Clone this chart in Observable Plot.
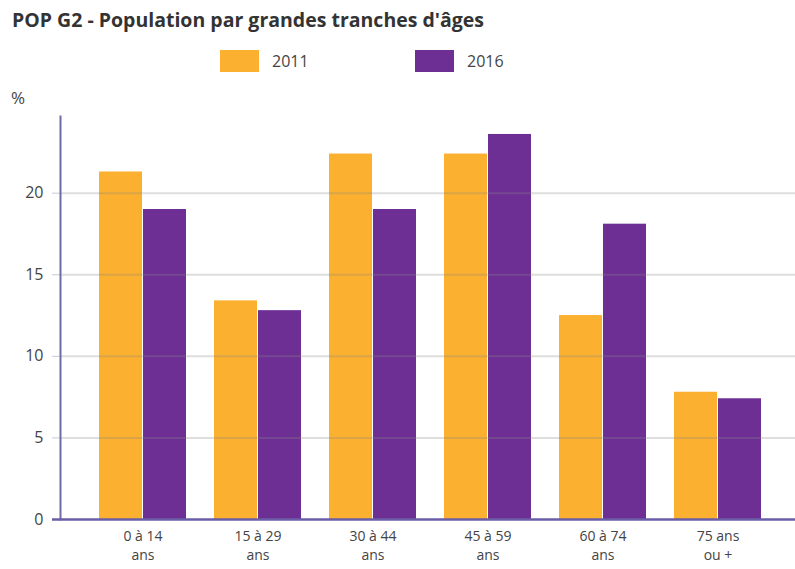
<!DOCTYPE html>
<html>
<head>
<meta charset="utf-8">
<script src="https://cdn.jsdelivr.net/npm/d3@7"></script>
<script src="https://cdn.jsdelivr.net/npm/@observablehq/plot@0.6"></script>
<style>
  html, body { margin: 0; padding: 0; background: #fff; }
  #wrap { position: relative; width: 795px; height: 569px; font-family: "Open Sans", sans-serif; }
  #title { position: absolute; left: 12px; top: 6px; font-size: 19.5px; font-weight: 700; color: #333; white-space: nowrap; }
  .leg { position: absolute; top: 50px; display: flex; align-items: center; font-size: 16px; color: #444; }
  .sw { width: 39px; height: 22px; margin-right: 13px; }
  #pct { position: absolute; left: 11px; top: 86px; font-size: 17px; color: #444; }
  #chart { position: absolute; left: 0; top: 90px; }
</style>
</head>
<body>
<div id="wrap">
  <div id="title"></div>
  <div id="legend"></div>
  <div id="pct">%</div>
  <div id="chart"></div>
</div>
<script>
const titleText = "POP G2 - Population par grandes tranches d'âges";
const ages = ["0 à 14\nans", "15 à 29\nans", "30 à 44\nans", "45 à 59\nans", "60 à 74\nans", "75 ans\nou +"];
const years = ["2011", "2016"];
const values2011 = [21.3, 13.4, 22.4, 22.4, 12.5, 7.8];
const values2016 = [19.0, 12.8, 19.0, 23.6, 18.1, 7.4];
const yTicks = [0, 5, 10, 15, 20];
const colors = ["#fbb02f", "#6e2f94"];

document.getElementById("title").textContent = titleText;
const legend = document.getElementById("legend");
const legLeft = [220, 415];
years.forEach((y, i) => {
  const d = document.createElement("div");
  d.className = "leg";
  d.style.left = legLeft[i] + "px";
  d.innerHTML = `<span class="sw" style="background:${colors[i]}"></span><span>${y}</span>`;
  legend.appendChild(d);
});

const d2011 = ages.map((a, i) => ({age: a, value: values2011[i]}));
const d2016 = ages.map((a, i) => ({age: a, value: values2016[i]}));

const chart = Plot.plot({
  width: 795,
  height: 479,
  marginLeft: 60,
  marginRight: 0,
  marginTop: 26,
  marginBottom: 50,
  style: {fontFamily: "Open Sans, sans-serif", fontSize: "16px", color: "#444", background: "transparent"},
  x: {domain: ages, paddingInner: 0.24, paddingOuter: 0.2935, align: 0.544, label: null},
  y: {domain: [0, 24.7], label: null},
  marks: [
    Plot.barY(d2011, {x: "age", y: "value", fill: colors[0], insetRight: 44}),
    Plot.barY(d2016, {x: "age", y: "value", fill: colors[1], insetLeft: 44}),
    Plot.gridY(yTicks.filter(t => t > 0), {stroke: "#888", strokeOpacity: 0.28, strokeWidth: 2}),
    Plot.axisY(yTicks, {tickSize: 8, tickPadding: 9, stroke: "#c8c8d8", fill: "#444", fontSize: 16, label: null}),
    Plot.frame({anchor: "left", stroke: "#6f6ca3", strokeWidth: 2}),
    Plot.ruleY([0], {stroke: "#6a5ea8", strokeWidth: 2.5, insetLeft: -8}),
    Plot.axisX({tickSize: 0, tickPadding: 9, fill: "#444", fontSize: 14, label: null, lineHeight: 1.3})
  ]
});
document.getElementById("chart").appendChild(chart);
</script>
</body>
</html>
